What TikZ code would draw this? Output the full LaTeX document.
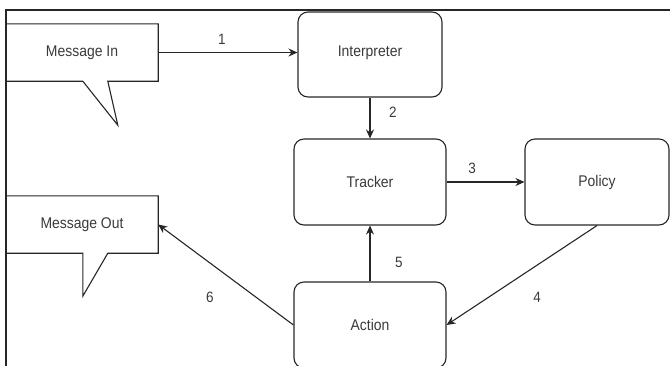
\documentclass[tikz,border=0pt]{standalone}
\usepackage{fontspec}
\setmainfont[FakeStretch=0.9]{Liberation Sans}
\usetikzlibrary{arrows.meta,calc}
\definecolor{txt}{HTML}{3A3A3A}
\definecolor{ln}{HTML}{262626}
\tikzset{
  box/.style={draw=ln, line width=1.1pt, rounded corners=10pt, minimum width=152pt, minimum height=86pt, text=txt, font=\fontsize{15.5}{17}\selectfont},
  callbox/.style={minimum width=152pt, minimum height=57pt, text=txt, font=\fontsize{15.5}{17}\selectfont},
  outline/.style={draw=ln, line width=1.1pt},
  conn/.style={draw=ln, line width=1.1pt, -{Stealth[length=9pt,width=8pt]}},
  num/.style={text=txt, font=\fontsize{15}{17}\selectfont},
  frameline/.style={draw=ln, line width=1.6pt}
}
\begin{document}
\begin{tikzpicture}[x=1pt,y=-1pt]
\useasboundingbox (0,0) rectangle (670,365);
% frame
\coordinate (ftr) at (671,10);
\coordinate (ftl) at (6,10);
\coordinate (fbl) at (6,366);
\draw[frameline] (ftr) -- (ftl) -- (fbl);
% callouts
\node[callbox] (msgin) at (82,52.5) {Message In};
\node[callbox] (msgout) at (82,224.5) {Message Out};
\draw[outline] (msgin.north west) -- (msgin.north east) -- (msgin.south east)
  -- ($(msgin.south west)+(102,0)$) -- ($(msgin.south west)+(112,44)$) -- ($(msgin.south west)+(77,0)$)
  -- (msgin.south west) -- cycle;
\draw[outline] (msgout.north west) -- (msgout.north east) -- (msgout.south east)
  -- ($(msgout.south west)+(102,0)$) -- ($(msgout.south west)+(77,43)$) -- ($(msgout.south west)+(77,0)$)
  -- (msgout.south west) -- cycle;
% boxes
\node[box, minimum width=144pt, minimum height=85pt] (interp) at (370,54.5) {\raisebox{6pt}{Interpreter}};
\node[box] (tracker) at (370,182) {Tracker};
\node[box, minimum width=144pt] (policy) at (597,182) {Policy};
\node[box] (action) at (370,325) {Action};
% connectors
\draw[conn] (msgin.east) -- (msgin.east -| interp.west);
\draw[conn] (interp.south) -- (tracker.north);
\draw[conn] (tracker.east) -- (policy.west);
\draw[conn] (policy.south) -- (action.east);
\draw[conn] (action.north) -- (tracker.south);
\draw[conn] (action.west) -- (msgout.east);
% labels
\node[num] (n1) at (222,39) {1};
\node[num] (n2) at (393,112) {2};
\node[num] (n3) at (472,168) {3};
\node[num] (n4) at (537,297) {4};
\node[num] (n5) at (399,262) {5};
\node[num] (n6) at (210,297) {6};
\end{tikzpicture}
\end{document}
